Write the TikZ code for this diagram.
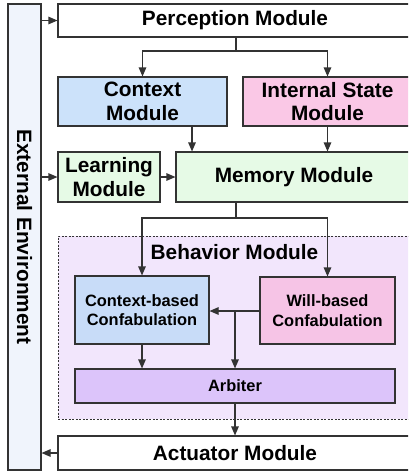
\documentclass[tikz,border=0pt]{standalone}
\usepackage{fontspec}
\setmainfont{Liberation Sans}
\usetikzlibrary{arrows.meta}

\definecolor{extfill}{HTML}{F0F4FC}
\definecolor{ctxfill}{HTML}{CCE2FA}
\definecolor{istfill}{HTML}{FAC8E6}
\definecolor{memfill}{HTML}{E6FAE6}
\definecolor{behfill}{HTML}{F2E6FC}
\definecolor{cbcfill}{HTML}{C8DCF8}
\definecolor{wbcfill}{HTML}{F6C4E6}
\definecolor{arbfill}{HTML}{DCC4FA}
\definecolor{edge}{HTML}{333333}

\tikzset{
  box/.style={draw=edge, line width=1.1pt, inner sep=0pt, align=center,
    font=\bfseries\fontsize{20.8}{23.5}\selectfont},
  smallbox/.style={box, font=\bfseries\fontsize{16.4}{19.5}\selectfont},
  arr/.style={draw=edge, line width=1.1pt, -{Triangle[length=9pt,width=7.5pt]}},
  wire/.style={draw=edge, line width=1.1pt},
  groupbox/.style={draw=edge, line width=0.8pt, dash pattern=on 2pt off 1.5pt,
    fill=behfill, inner sep=0pt},
}

\begin{document}
\begin{tikzpicture}[x=1pt,y=-1pt]
\useasboundingbox (0,0) rectangle (408,471);
\clip (0,0) rectangle (408,471);
\fill[white] (0,0) rectangle (408,471);

% environment column
\node[box, fill=extfill, minimum width=33pt, minimum height=466pt] (ext) at (24.5,237) {};
\node[rotate=-90, font=\bfseries\fontsize{20.8}{24}\selectfont] (extlabel) at (ext.center) {External Environment};

% upper modules
\node[box, fill=white, minimum width=354pt, minimum height=33pt] (perc) at (235,20.5) {Perception Module};
\node[box, fill=ctxfill, minimum width=169pt, minimum height=49pt] (ctx) at (142.5,101.5) {Context\\Module};
\node[box, fill=istfill, minimum width=169pt, minimum height=49pt] (ist) at (327.5,101.5) {Internal State\\Module};
\node[box, fill=memfill, minimum width=102pt, minimum height=50pt] (learn) at (109,177) {Learning\\Module};
\node[box, fill=memfill, minimum width=236pt, minimum height=50pt] (mem) at (294,177) {Memory Module};

% behavior group
\node[groupbox, minimum width=354pt, minimum height=183pt] (beh) at (235,327.5) {};
\node[font=\bfseries\fontsize{20.8}{24}\selectfont, inner sep=0pt] (behlabel) at (234.5,252) {Behavior Module};
\node[smallbox, fill=cbcfill, minimum width=134pt, minimum height=68pt] (cbc) at (142,310) {Context-based\\Confabulation};
\node[smallbox, fill=wbcfill, minimum width=135pt, minimum height=67pt] (wbc) at (327.5,310.5) {Will-based\\Confabulation};
\node[smallbox, fill=arbfill, minimum width=320pt, minimum height=34pt] (arb) at (235,386) {Arbiter};

% output module
\node[box, fill=white, minimum width=354pt, minimum height=34pt] (act) at (235,453) {Actuator Module};

% junction points
\coordinate (s1) at (236,51);
\coordinate (s2) at (236,218);
\coordinate (cm) at (192,140);
\coordinate (b) at (235,311);

% connectors
\draw[arr] (ext.east |- perc.west) -- (perc.west);
\draw[wire] (s1 |- perc.south) -- (s1);
\draw[arr] (s1) -| (ctx.north);
\draw[arr] (s1) -| (ist.north);
\draw[arr] (cm |- ctx.south) -- (cm |- mem.north);
\draw[arr] (ist.south) -- (ist.south |- mem.north);
\draw[arr] (ext.east |- learn.west) -- (learn.west);
\draw[arr] (learn.east) -- (mem.west);
\draw[wire] (s2 |- mem.south) -- (s2);
\draw[arr] (s2) -| (cbc.north);
\draw[arr] (s2) -| (wbc.north);
\draw[arr] (wbc.west |- b) -- (cbc.east |- b);
\draw[arr] (b) -- (b |- arb.north);
\draw[arr] (cbc.south) -- (cbc.south |- arb.north);
\draw[arr] (arb.south) -- (arb.south |- act.north);
\draw[arr] (act.west) -- (ext.east |- act.west);
\end{tikzpicture}
\end{document}
